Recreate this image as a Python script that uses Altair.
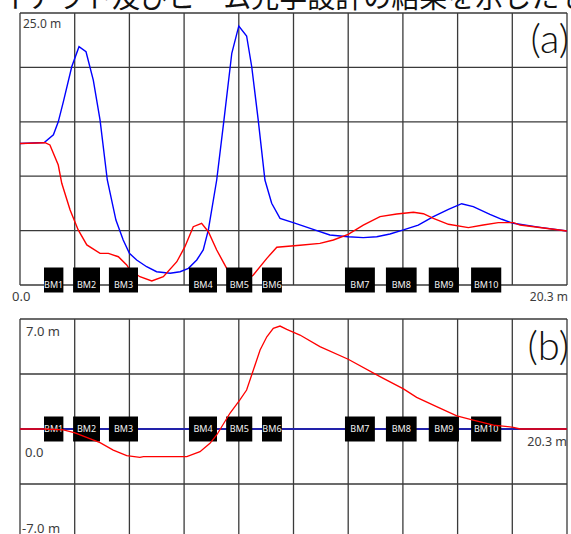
import altair as alt
import numpy as np
import pandas as pd

# ---- beam-line lattice: bending magnets (start / end along s, metres) ----
bm_names = ["BM1", "BM2", "BM3", "BM4", "BM5", "BM6", "BM7", "BM8", "BM9", "BM10"]
bm_start = [0.89, 1.97, 3.30, 6.27, 7.65, 8.98, 12.06, 13.58, 15.17, 16.74]
bm_end = [1.61, 2.97, 4.38, 7.31, 8.62, 9.72, 13.17, 14.72, 16.29, 17.86]

# ---- (a) betatron functions [m] ----
s_bx = [0.00, 0.90, 1.24, 1.42, 1.61, 1.92, 2.19, 2.45, 2.72, 2.97, 3.24, 3.56,
        3.83, 4.06, 4.33, 4.70, 5.07, 5.57, 5.94, 6.25, 6.56, 6.80, 6.99, 7.30,
        7.57, 7.86, 8.12, 8.41, 8.60, 8.84, 9.09, 9.34, 9.65, 10.14, 10.88,
        11.50, 12.18, 12.74, 13.24, 13.73, 14.23, 14.78, 15.34, 15.90, 16.39,
        16.82, 17.44, 17.88, 18.31, 19.30, 20.30]
beta_x = [13.0, 13.1, 13.8, 15.0, 16.85, 20.06, 21.90, 21.44, 18.84, 15.17, 9.65,
          5.97, 4.14, 2.91, 2.30, 1.68, 1.22, 1.08, 1.22, 1.53, 2.30, 3.22, 5.06,
          9.65, 15.17, 21.30, 23.81, 22.89, 20.06, 15.17, 9.65, 7.51, 6.13, 5.73,
          5.12, 4.60, 4.44, 4.35, 4.44, 4.69, 5.06, 5.51, 6.28, 6.96, 7.47, 7.20,
          6.50, 6.04, 5.67, 5.30, 4.96]

s_by = [0.00, 0.93, 1.11, 1.42, 1.55, 1.86, 2.16, 2.48, 2.97, 3.28, 3.65, 3.96,
        4.08, 4.45, 4.89, 5.32, 5.82, 6.12, 6.43, 6.74, 6.99, 7.30, 7.67, 7.92,
        8.16, 8.42, 8.66, 9.16, 9.53, 10.39, 11.13, 11.63, 12.18, 12.74, 13.36,
        13.98, 14.60, 14.97, 15.34, 15.90, 16.64, 17.19, 17.75, 18.31, 18.56,
        20.30]
beta_y = [13.0, 13.08, 12.87, 11.03, 9.35, 6.89, 5.06, 3.68, 2.91, 2.91, 2.60,
          1.84, 1.38, 0.76, 0.37, 0.76, 2.14, 3.52, 5.36, 5.67, 4.90, 3.22, 1.53,
          0.62, 0.28, 0.46, 0.92, 2.45, 3.47, 3.65, 3.83, 4.14, 4.66, 5.51, 6.28,
          6.53, 6.68, 6.55, 6.13, 5.58, 5.27, 5.51, 5.73, 5.73, 5.51, 4.96]

# ---- (b) dispersion [m] ----
s_eta = [0.00, 0.89, 1.61, 2.04, 2.97, 3.46, 3.96, 4.45, 4.58, 6.19, 6.68, 7.05,
         7.30, 7.79, 8.16, 8.41, 8.66, 8.91, 9.16, 9.40, 9.65, 9.90, 10.39, 11.13,
         12.18, 13.36, 14.23, 14.72, 15.46, 16.21, 16.82, 17.57, 18.31, 18.56,
         20.30]
eta_x = [0.00, 0.00, -0.06, -0.25, -0.87, -1.34, -1.70, -1.80, -1.76, -1.76,
         -1.44, -0.91, -0.38, 1.00, 1.85, 2.48, 3.75, 5.03, 5.87, 6.41, 6.55,
         6.34, 5.98, 5.24, 4.44, 3.33, 2.55, 2.01, 1.42, 0.83, 0.57, 0.25, 0.11,
         0.00, 0.00]
s_eta_y = [0.00, 20.30]
eta_y = [0.00, 0.00]

# ---- axis extents and labels ----
S_MAX = 20.3
A_RANGE = [0.0, 25.0]
B_RANGE = [-7.0, 7.0]
a_hlines = [0, 5, 10, 15, 20, 25]
b_hlines = [-7.0, -3.5, 0.0, 3.5, 7.0]
s_lines = list(np.linspace(0, S_MAX, 11))
caption = "レイアウト及びビーム光学設計の結果を示したもの"

GRID = "#3a3a3a"
LABEL = "#3c3c3c"
FONT = "Noto Sans"

xs = alt.Scale(domain=[0, S_MAX], range=[20, 567], nice=False, zero=False)
ya = alt.Scale(domain=A_RANGE, range=[285, 13], nice=False, zero=False)
yb = alt.Scale(domain=B_RANGE, range=[539, 319], nice=False, zero=False)


def X(f):
    return alt.X(f, type="quantitative", scale=xs, axis=None)


def Y(f, sc):
    return alt.Y(f, type="quantitative", scale=sc, axis=None)


def grid(hvals, yr, sc):
    v = pd.DataFrame({"s": s_lines, "lo": yr[0], "hi": yr[1]})
    h = pd.DataFrame({"v": hvals, "lo": 0.0, "hi": S_MAX})
    vert = alt.Chart(v).mark_rule(color=GRID, strokeWidth=1.3).encode(
        x=X("s"), y=Y("lo", sc), y2="hi")
    horiz = alt.Chart(h).mark_rule(color=GRID, strokeWidth=1.3).encode(
        y=Y("v", sc), x=X("lo"), x2="hi")
    return [vert, horiz]


def curve(s, v, sc, color, width):
    df = pd.DataFrame({"s": s, "v": v})
    return alt.Chart(df).mark_line(color=color, strokeWidth=width).encode(
        x=X("s"), y=Y("v", sc))


def magnets(sc):
    df = pd.DataFrame({"name": bm_names, "s0": bm_start, "s1": bm_end, "y": 0.0})
    base = alt.Chart(df).transform_calculate(mid="(datum.s0 + datum.s1) / 2")
    boxes = base.mark_bar(color="black", size=25, orient="horizontal").encode(
        x=X("s0"), x2="s1", y=Y("y", sc))
    names = base.mark_text(color="#f2f2f2", fontSize=9, font=FONT,
                           baseline="middle").encode(
        x=X("mid"), y=Y("y", sc), text="name:N")
    return [boxes, names]


def label(text, s, v, sc, size=12, align="left", dx=0, dy=0, **kw):
    df = pd.DataFrame({"t": [text], "s": [s], "v": [v]})
    return alt.Chart(df).mark_text(
        fontSize=size, font=kw.pop("font", FONT), color=kw.pop("color", LABEL),
        align=align, baseline="alphabetic", dx=dx, dy=dy, **kw
    ).encode(x=X("s"), y=Y("v", sc), text="t:N")


layers = []
# (a) betatron functions
layers += grid(a_hlines, A_RANGE, ya)
layers.append(curve(s_bx, beta_x, ya, "#0000ff", 1.4))
layers.append(curve(s_by, beta_y, ya, "#ff0000", 1.4))
layers += magnets(ya)
layers.append(label("25.0 m", 0, 25, ya, size=12, dx=3, dy=15))
layers.append(label("0.0", 0, 0, ya, size=13, dx=-8, dy=16))
layers.append(label("20.3 m", S_MAX, 0, ya, size=12, align="right", dx=1, dy=16))
layers.append(label("(a)", S_MAX, 25, ya, size=40, align="right", dx=2, dy=40,
                    font="Lato", fontWeight=300, color="#111111"))

# (b) dispersion
layers += grid(b_hlines, B_RANGE, yb)
layers.append(curve(s_eta_y, eta_y, yb, "#2222aa", 2.0))
layers += magnets(yb)
layers.append(curve(s_eta, eta_x, yb, "#ff0000", 1.3))
layers.append(label("7.0 m", 0, 7, yb, size=13, dx=6, dy=17))
layers.append(label("0.0", 0, 0, yb, size=13, dx=5, dy=28))
layers.append(label("20.3 m", S_MAX, 0, yb, size=12.5, align="right", dx=0, dy=17))
layers.append(label("-7.0 m", 0, -7, yb, size=13, dx=2, dy=-6))
layers.append(label("(b)", S_MAX, 7, yb, size=40, align="right", dx=2, dy=41,
                    font="Lato", fontWeight=300, color="#111111"))

# caption line running above the figure
cap = alt.Chart(pd.DataFrame({"t": [caption]})).mark_text(
    font="Noto Sans CJK JP", fontSize=28, color="#111111", align="left",
    baseline="alphabetic"
).encode(x=alt.value(-28), y=alt.value(8), text="t:N")
layers.append(cap)

chart = alt.layer(*layers).resolve_scale(y="independent").properties(
    width=571, height=534,
    autosize=alt.AutoSizeParams(type="none"),
    padding=0,
    background="white",
).configure_view(stroke=None)

chart.save("out.html", embed_options={"renderer": "svg", "actions": False})
